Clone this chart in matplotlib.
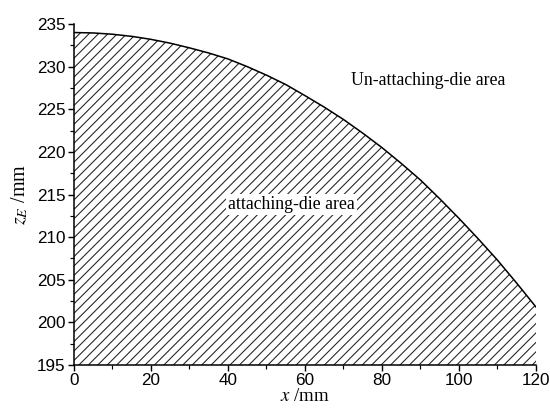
import matplotlib
matplotlib.use("Agg")
import matplotlib.pyplot as plt
from matplotlib import font_manager
from matplotlib.ticker import MultipleLocator

# boundary of the attaching-die area
x_mm = [0, 5, 10, 15, 20, 25, 30, 35, 40, 45, 50, 55, 60,
        65, 70, 75, 80, 85, 90, 95, 100, 105, 110, 115, 120]
z_E = [234.0, 233.95, 233.8, 233.55, 233.2, 232.75, 232.2, 231.6, 230.9, 230.0, 229.0, 227.9, 226.6,
       225.25, 223.8, 222.2, 220.5, 218.65, 216.7, 214.5, 212.2, 209.8, 207.3, 204.6, 201.8]

x_ticks = [0, 20, 40, 60, 80, 100, 120]
y_ticks = [195, 200, 205, 210, 215, 220, 225, 230, 235]

names = {f.name for f in font_manager.fontManager.ttflist}
tick_font = "Liberation Sans Narrow" if "Liberation Sans Narrow" in names else "Liberation Sans"
serif = "Liberation Serif"

DPI = 85
plt.rcParams["hatch.linewidth"] = 0.9
plt.rcParams["mathtext.fontset"] = "stix"
fig = plt.figure(figsize=(550 / DPI, 416 / DPI), dpi=DPI)
ax = fig.add_axes([0.1345, 0.1226, 0.8400, 0.8197])

ax.fill_between(x_mm, z_E, 195, facecolor="white", edgecolor="#222222", hatch="///", linewidth=0)
ax.plot(x_mm, z_E, color="black", lw=1.3)

ax.set_xlim(0, 120)
ax.set_ylim(195, 235)
ax.set_xticks(x_ticks)
ax.set_yticks(y_ticks)
ax.xaxis.set_minor_locator(MultipleLocator(10))
ax.yaxis.set_minor_locator(MultipleLocator(2.5))
for s in ["top", "right"]:
    ax.spines[s].set_visible(False)
for s in ["left", "bottom"]:
    ax.spines[s].set_linewidth(1.3)
ax.tick_params(which="major", direction="out", length=5, width=1.2, labelsize=14.5, pad=2)
ax.tick_params(which="minor", direction="out", length=3, width=1.0)
for lab in ax.get_xticklabels() + ax.get_yticklabels():
    lab.set_fontfamily(tick_font)

ax.text(92, 228.4, "Un-attaching-die area", family=serif, fontsize=15,
        ha="center", va="center")
ax.text(56.5, 213.8, "attaching-die area", family=serif, fontsize=15,
        ha="center", va="center",
        bbox=dict(facecolor="white", edgecolor="none", pad=1.5))

ax.set_xlabel(r"$x$ /mm", family=serif, fontsize=16, labelpad=0)
ax.set_ylabel(r"$z_E$ /mm", family=serif, fontsize=17, labelpad=6)
ax.xaxis.label.set_math_fontfamily("stix")
ax.yaxis.label.set_math_fontfamily("stix")

fig.savefig("out.png", dpi=DPI)
